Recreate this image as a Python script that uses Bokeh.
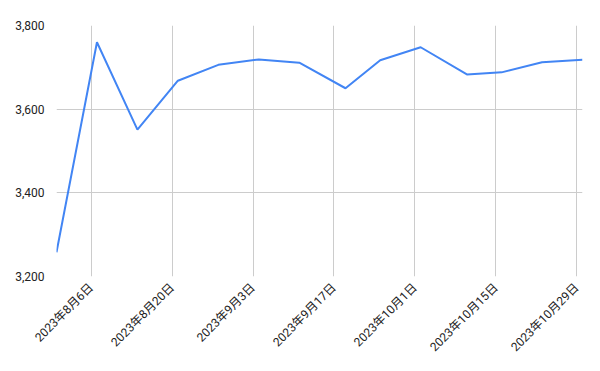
import math
import pandas as pd
from bokeh.plotting import figure
from bokeh.models import FixedTicker, NumeralTickFormatter, Range1d
from bokeh.embed import file_html
from bokeh.resources import INLINE

dates = ["2023-07-31", "2023-08-07", "2023-08-14", "2023-08-21", "2023-08-28",
         "2023-09-04", "2023-09-11", "2023-09-19", "2023-09-25", "2023-10-02",
         "2023-10-10", "2023-10-16", "2023-10-23", "2023-10-30"]
values = [3258, 3760, 3551, 3668, 3706, 3719, 3711, 3650, 3717, 3748,
          3683, 3688, 3712, 3718]

tick_dates = ["2023-08-06", "2023-08-20", "2023-09-03", "2023-09-17",
              "2023-10-01", "2023-10-15", "2023-10-29"]
tick_labels = ["2023年8月6日", "2023年8月20日", "2023年9月3日", "2023年9月17日",
               "2023年10月1日", "2023年10月15日", "2023年10月29日"]
y_ticks = [3200, 3400, 3600, 3800]

x = pd.to_datetime(dates)
tick_ms = [pd.Timestamp(d).value / 1e6 for d in tick_dates]

p = figure(width=600, height=371, x_axis_type="datetime",
           output_backend="svg", toolbar_location=None,
           min_border_left=56, min_border_right=18,
           min_border_top=25, min_border_bottom=95)
p.x_range = Range1d(x[0], x[-1])
p.y_range = Range1d(3200, 3800)

p.line(x, values, line_color="#4285F4", line_width=2)

font = "Roboto, Noto Sans CJK JP"
p.xaxis.ticker = FixedTicker(ticks=tick_ms)
p.xaxis.major_label_overrides = {t: l for t, l in zip(tick_ms, tick_labels)}
p.xaxis.major_label_orientation = math.pi / 4
p.yaxis.ticker = FixedTicker(ticks=y_ticks)
p.yaxis.formatter = NumeralTickFormatter(format="0,0")

for ax in (p.xaxis, p.yaxis):
    ax.axis_line_color = None
    ax.major_tick_line_color = None
    ax.minor_tick_line_color = None
    ax.major_label_text_font = font
    ax.major_label_text_font_size = "12px"
    ax.major_label_text_color = "#222222"
p.yaxis.major_label_standoff = 6
p.xaxis.major_label_standoff = 3

p.grid.grid_line_color = "#cccccc"
p.grid.grid_line_width = 1
p.outline_line_color = None
p.background_fill_color = "white"
p.border_fill_color = "white"

open("out.html", "w").write(file_html(p, INLINE))
